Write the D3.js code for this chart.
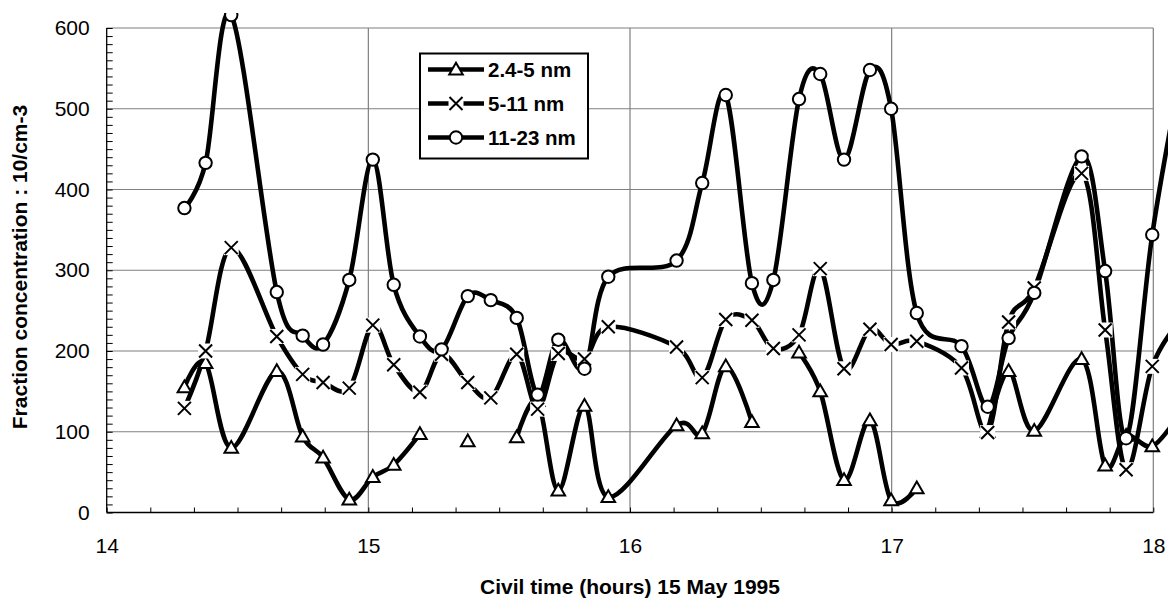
<!DOCTYPE html>
<html>
<head>
<meta charset="utf-8">
<script src="https://cdn.jsdelivr.net/npm/d3@7"></script>
<style>
  html, body { margin: 0; padding: 0; background: #fff; }
  svg { display: block; font-family: "Liberation Sans", Arial, sans-serif; }
</style>
</head>
<body>
<svg id="chart" width="1168" height="598"></svg>
<script>
// ---- data (hours, civil time 15 May 1995) ----
const times = [14.297, 14.378, 14.476, 14.650, 14.749, 14.827, 14.927, 15.017, 15.097, 15.197,
               15.280, 15.380, 15.468, 15.567, 15.647, 15.726, 15.826, 15.917, 16.178, 16.276,
               16.366, 16.466, 16.548, 16.646, 16.727, 16.818, 16.917, 16.998, 17.096, 17.267,
               17.367, 17.447, 17.545, 17.726, 17.816, 17.896, 17.996, 18.10];
const series1Name = "2.4-5 nm";
const series1 = [155, 185, 80, 175, 94, 68, 16, 44, 59, 97,
                 null, 88, null, 93, 138, 27, 132, 19, 108, 98,
                 181, 112, null, 198, 150, 40, 114, 15, 30, null,
                 100, 175, 101, 190, 58, 95, 82, 122];
const series2Name = "5-11 nm";
const series2 = [129, 200, 328, 218, 171, 161, 154, 232, 183, 149,
                 196, 161, 142, 196, 128, 197, 190, 230, 205, 167,
                 239, 238, 203, 220, 302, 178, 227, 208, 212, 179,
                 99, 236, 278, 420, 226, 53, 181, 236];
const series3Name = "11-23 nm";
const series3 = [377, 433, 616, 273, 219, 208, 288, 437, 282, 218,
                 202, 268, 263, 241, 146, 214, 178, 292, 312, 408,
                 517, 284, 288, 512, 543, 437, 548, 500, 247, 206,
                 131, 216, 272, 441, 299, 92, 344, 535];
const xTicks = [14, 15, 16, 17, 18];
const yTicks = [0, 100, 200, 300, 400, 500, 600];
const xTitle = "Civil time (hours) 15 May 1995";
const yTitle = "Fraction concentration : 10/cm-3";

// ---- layout ----
const svg = d3.select("#chart");
const x = d3.scaleLinear().domain([14, 18]).range([106.7, 1153.3]);
const y = d3.scaleLinear().domain([0, 600]).range([512.5, 28]);
const grid = "#7f7f7f";

svg.append("defs").append("clipPath").attr("id", "plotclip")
  .append("rect").attr("x", 0).attr("y", 13).attr("width", 1168).attr("height", 585);

// gridlines
svg.append("g").selectAll("line").data(yTicks.slice(1)).join("line")
  .attr("x1", x(14)).attr("x2", x(18))
  .attr("y1", d => y(d)).attr("y2", d => y(d))
  .attr("stroke", grid).attr("stroke-width", 1.2);
svg.append("g").selectAll("line").data(xTicks.slice(1)).join("line")
  .attr("y1", y(0)).attr("y2", y(600))
  .attr("x1", d => x(d)).attr("x2", d => x(d))
  .attr("stroke", grid).attr("stroke-width", 1.2);

// minor ticks (inside)
const yMinor = d3.range(0, 601, 10);
const xMinor = d3.range(0, 25).map(i => 14 + i / 6);
svg.append("g").attr("transform", `translate(${x(14)},0)`)
  .call(d3.axisLeft(y).tickValues(yMinor).tickSize(-6).tickFormat(""))
  .call(g => g.select(".domain").remove())
  .call(g => g.selectAll("line").attr("stroke", "#000"));
svg.append("g").attr("transform", `translate(0,${y(0)})`)
  .call(d3.axisBottom(x).tickValues(xMinor).tickSize(-5).tickFormat(""))
  .call(g => g.select(".domain").remove())
  .call(g => g.selectAll("line").attr("stroke", "#000"));

// axis lines
svg.append("line").attr("x1", x(14)).attr("x2", x(14)).attr("y1", y(0)).attr("y2", y(600))
  .attr("stroke", "#000").attr("stroke-width", 1.3);
svg.append("line").attr("x1", x(14)).attr("x2", x(18)).attr("y1", y(0)).attr("y2", y(0))
  .attr("stroke", "#000").attr("stroke-width", 1.3);

// tick labels via axes
svg.append("g").attr("transform", `translate(${x(14)},0)`)
  .call(d3.axisLeft(y).tickValues(yTicks).tickSize(0).tickPadding(17).tickFormat(d3.format("d")))
  .call(g => g.select(".domain").remove())
  .call(g => g.selectAll("text").attr("font-size", 21).attr("fill", "#000")
      .attr("font-family", "Liberation Sans, Arial, sans-serif"));
svg.append("g").attr("transform", `translate(0,${y(0)})`)
  .call(d3.axisBottom(x).tickValues(xTicks).tickSize(0).tickPadding(26).tickFormat(d3.format("d")))
  .call(g => g.select(".domain").remove())
  .call(g => g.selectAll("text").attr("font-size", 21).attr("fill", "#000")
      .attr("font-family", "Liberation Sans, Arial, sans-serif"));

// axis titles
svg.append("text").attr("x", 630).attr("y", 594).attr("text-anchor", "middle")
  .attr("font-size", 21).attr("font-weight", "bold").text(xTitle);
svg.append("text").attr("transform", "translate(27,267) rotate(-90)")
  .attr("text-anchor", "middle").attr("font-size", 21).attr("font-weight", "bold").text(yTitle);

// ---- series ----
const allSeries = [
  {name: series1Name, vals: series1, marker: "triangle"},
  {name: series2Name, vals: series2, marker: "cross"},
  {name: series3Name, vals: series3, marker: "circle"}
];
const line = d3.line()
  .defined(d => d.v != null)
  .x(d => x(d.t)).y(d => y(d.v))
  .curve(d3.curveCardinal.tension(0));

const lineG = svg.append("g").attr("clip-path", "url(#plotclip)");
allSeries.forEach(s => {
  const pts = times.map((t, i) => ({t, v: s.vals[i]}));
  lineG.append("path").datum(pts).attr("d", line)
    .attr("fill", "none").attr("stroke", "#000").attr("stroke-width", 4.6)
    .attr("stroke-linejoin", "round");
});

function drawMarker(g, type, cx, cy) {
  if (type === "triangle") {
    g.append("path")
      .attr("d", d3.symbol(d3.symbolTriangle, 80)())
      .attr("transform", `translate(${cx},${cy + 1})`)
      .attr("fill", "#fff").attr("stroke", "#000").attr("stroke-width", 2);
  } else if (type === "cross") {
    g.append("rect").attr("x", cx - 7.5).attr("y", cy - 7.5).attr("width", 15).attr("height", 15)
      .attr("fill", "#fff");
    g.append("path")
      .attr("d", `M${cx - 6.5},${cy - 6.5}L${cx + 6.5},${cy + 6.5}M${cx - 6.5},${cy + 6.5}L${cx + 6.5},${cy - 6.5}`)
      .attr("stroke", "#000").attr("stroke-width", 2);
  } else {
    g.append("circle").attr("cx", cx).attr("cy", cy).attr("r", 6.2)
      .attr("fill", "#fff").attr("stroke", "#000").attr("stroke-width", 2);
  }
}

const markG = svg.append("g").attr("clip-path", "url(#plotclip)");
allSeries.forEach(s => {
  times.forEach((t, i) => {
    if (s.vals[i] == null) return;
    drawMarker(markG, s.marker, x(t), y(s.vals[i]));
  });
});

// ---- legend ----
const lg = svg.append("g");
lg.append("rect").attr("x", 420).attr("y", 53.5).attr("width", 168).attr("height", 105)
  .attr("fill", "#fff").attr("stroke", "#000").attr("stroke-width", 2);
allSeries.forEach((s, i) => {
  const ly = 69.5 + i * 34;
  lg.append("line").attr("x1", 428).attr("x2", 484).attr("y1", ly).attr("y2", ly)
    .attr("stroke", "#000").attr("stroke-width", 4.6);
  drawMarker(lg, s.marker, 456, ly);
  lg.append("text").attr("x", 488).attr("y", ly).attr("dy", "0.36em")
    .attr("font-size", 20.5).attr("font-weight", "bold").text(s.name);
});
</script>
</body>
</html>
